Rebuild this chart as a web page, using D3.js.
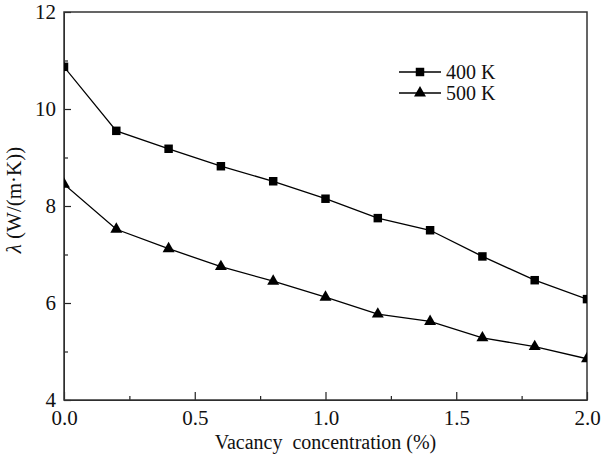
<!DOCTYPE html>
<html>
<head>
<meta charset="utf-8">
<script src="https://cdn.jsdelivr.net/npm/d3@7"></script>
<style>
  body { margin: 0; background: #fff; }
  svg text { font-family: "Liberation Serif", "DejaVu Serif", serif !important; fill: #111; }
</style>
</head>
<body>
<svg id="chart" width="601" height="456"></svg>
<script>
// Data
const concentration = [0, 0.2, 0.4, 0.6, 0.8, 1.0, 1.2, 1.4, 1.6, 1.8, 2.0]
const k400 = [10.87, 9.55, 9.18, 8.82, 8.51, 8.15, 7.75, 7.5, 6.96, 6.47, 6.08]
const k500 = [8.45, 7.52, 7.12, 6.75, 6.45, 6.12, 5.77, 5.62, 5.28, 5.1, 4.85]
const xTicks = [0, 0.5, 1.0, 1.5, 2.0]
const yTicks = [4, 6, 8, 10, 12]
const seriesNames = ["400 K", "500 K"]

const svg = d3.select("#chart")
const margin = { left: 64, top: 12, right: 14, bottom: 56 }
const width = 601, height = 456

const x = d3.scaleLinear().domain([0, 2]).range([margin.left, width - margin.right])
const y = d3.scaleLinear().domain([4, 12]).range([height - margin.bottom, margin.top])

// clip so edge markers get cut like in the original
svg.append("clipPath").attr("id", "plot-clip")
  .append("rect")
  .attr("x", x(0)).attr("y", y(12))
  .attr("width", x(2) - x(0)).attr("height", y(4) - y(12))

// minor ticks first, then major ticks with labels
const xMinor = d3.range(0.25, 2, 0.5)
const yMinor = [5, 7, 9, 11]

const xAxis = svg.append("g").attr("transform", `translate(0,${y(4)})`)
xAxis.call(d3.axisBottom(x).tickValues(xTicks).tickFormat(d3.format(".1f")).tickSizeInner(-8).tickSizeOuter(0).tickPadding(10))
xAxis.append("g").call(d3.axisBottom(x).tickValues(xMinor).tickFormat("").tickSizeInner(-4).tickSizeOuter(0))
  .select(".domain").remove()

const yAxis = svg.append("g").attr("transform", `translate(${x(0)},0)`)
yAxis.call(d3.axisLeft(y).tickValues(yTicks).tickFormat(d3.format("d")).tickSizeInner(-7).tickSizeOuter(0).tickPadding(8))
yAxis.append("g").call(d3.axisLeft(y).tickValues(yMinor).tickFormat("").tickSizeInner(-4).tickSizeOuter(0))
  .select(".domain").remove()

svg.selectAll("g").attr("font-family", null)
svg.selectAll(".tick text").style("font-size", "21px").attr("fill", "#111")
svg.selectAll(".tick line").attr("stroke", "#222").attr("stroke-width", 1.2)
svg.selectAll(".domain").attr("stroke", "#222")

// frame round the plot
svg.append("rect")
  .attr("x", x(0)).attr("y", y(12))
  .attr("width", x(2) - x(0)).attr("height", y(4) - y(12))
  .attr("fill", "none").attr("stroke", "#333").attr("stroke-width", 1.5)

const line = d3.line().x((d) => x(d[0])).y((d) => y(d[1]))
const square = d3.symbol().type(d3.symbolSquare).size(72)
const triangle = d3.symbol().type(d3.symbolTriangle).size(62)

const series = [
  { name: seriesNames[0], values: k400, sym: square },
  { name: seriesNames[1], values: k500, sym: triangle },
]

const plot = svg.append("g").attr("clip-path", "url(#plot-clip)")
series.forEach((s) => {
  const pts = concentration.map((c, i) => [c, s.values[i]])
  plot.append("path").datum(pts)
    .attr("d", line).attr("fill", "none").attr("stroke", "#000").attr("stroke-width", 1.3)
  plot.selectAll(null).data(pts).enter().append("path")
    .attr("d", s.sym)
    .attr("transform", (d) => `translate(${x(d[0])},${y(d[1])})`)
    .attr("fill", "#000")
})

// legend
const legend = svg.append("g")
series.forEach((s, i) => {
  const ly = 72 + i * 21
  legend.append("line").attr("x1", 399).attr("x2", 441).attr("y1", ly).attr("y2", ly)
    .attr("stroke", "#000").attr("stroke-width", 1.3)
  legend.append("path").attr("d", s.sym).attr("transform", `translate(420,${ly})`).attr("fill", "#000")
  legend.append("text").attr("x", 446).attr("y", ly + 7).style("font-size", "20px").text(s.name)
})

// axis titles
svg.append("text")
  .attr("x", (x(0) + x(2)) / 2).attr("y", 449)
  .attr("text-anchor", "middle").style("font-size", "20px").style("white-space", "pre")
  .text("Vacancy  concentration (%)")

const yt = svg.append("text")
  .attr("transform", `translate(21,200) rotate(-90)`)
  .attr("text-anchor", "middle").style("font-size", "21px")
yt.append("tspan").style("font-style", "italic").text("λ")
yt.append("tspan").text(" (W/(m·K))")
</script>
</body>
</html>
